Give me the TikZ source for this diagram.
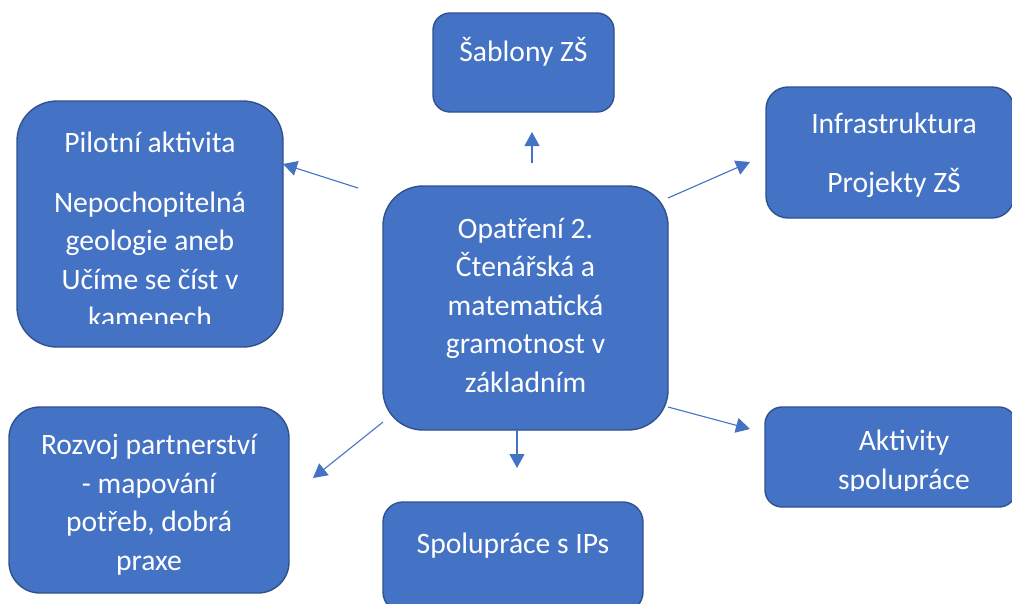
\documentclass[tikz,border=0pt]{standalone}
\usepackage{fontspec}
\setmainfont{Carlito}
\usetikzlibrary{arrows.meta}
\definecolor{boxfill}{HTML}{4472C4}
\definecolor{boxline}{HTML}{2F528F}
\definecolor{arrowcol}{HTML}{4472C4}
\begin{document}
\begin{tikzpicture}[x=1pt,y=-1pt,
  boxst/.style={draw=boxline, fill=boxfill, line width=1.4pt, inner sep=0pt, rounded corners=#1},
  txt/.style={text=white, align=center, anchor=base, inner sep=0pt,
    font=\fontsize{29.6}{38.5}\selectfont},
  conn/.style={draw=arrowcol, line width=1.1pt, -{Triangle[length=14pt,width=15pt]}}]
\useasboundingbox (0,0) rectangle (1012,603);
\clip (0,0) rectangle (1012,603);
% boxes
\node[boxst=40pt, minimum width=266pt, minimum height=246pt] (pil) at (150,224) {};
\node[boxst=40pt, minimum width=285pt, minimum height=244pt] (mid) at (525.5,308) {};
\node[boxst=17pt, minimum width=181pt, minimum height=99pt] (sab) at (523.5,62.5) {};
\node[boxst=22pt, minimum width=248pt, minimum height=131pt] (inf) at (890,152.5) {};
\node[boxst=17pt, minimum width=251pt, minimum height=100pt] (akt) at (890.5,457) {};
\node[boxst=20pt, minimum width=260pt, minimum height=110pt] (spo) at (513,557) {};
\node[boxst=31pt, minimum width=280pt, minimum height=186pt] (roz) at (149,500) {};
% texts (anchor base = baseline of the last line)
\node[txt] (mid-t) at (525.5,392) {Opatření 2.\\Čtenářská a\\matematická\\gramotnost v\\základním};
\node[txt] (sab-t) at (523.5,61) {Šablony ZŠ};
\node[txt] (inf-t1) at (894,133) {Infrastruktura};
\node[txt] (inf-t2) at (894,192) {Projekty ZŠ};
\node[txt] (spo-t) at (513,553) {Spolupráce s IPs};
\node[txt] (roz-t) at (149,570) {Rozvoj partnerství\\- mapování\\potřeb, dobrá\\praxe};
\node[txt] (pil-t1) at (150,152) {Pilotní aktivita};
\begin{scope}
  \clip (17,100) rectangle (283,323);
  \node[txt] (pil-t2) at (150,327.5) {Nepochopitelná\\geologie aneb\\Učíme se číst v\\kamenech};
\end{scope}
\begin{scope}
  \clip (765,400) rectangle (1012,490);
  \node[txt] (akt-t) at (904,489) {Aktivity\\spolupráce};
\end{scope}
% connector end points
\coordinate (c-pil-s) at (358,188);
\coordinate (c-pil-e) at (283,164);
\coordinate (c-sab-s) at (532,163);
\coordinate (c-sab-e) at (532,132);
\coordinate (c-inf-s) at (668,198);
\coordinate (c-inf-e) at (750,162);
\coordinate (c-akt-s) at (668,407);
\coordinate (c-akt-e) at (750,429);
\coordinate (c-roz-s) at (383,422);
\coordinate (c-roz-e) at (313,478);
\coordinate (c-spo-s) at (517,430);
\coordinate (c-spo-e) at (517,468);
\draw[conn] (c-pil-s) -- (c-pil-e);
\draw[conn] (c-sab-s) -- (c-sab-e);
\draw[conn] (c-inf-s) -- (c-inf-e);
\draw[conn] (c-akt-s) -- (c-akt-e);
\draw[conn] (c-roz-s) -- (c-roz-e);
\draw[conn] (c-spo-s) -- (c-spo-e);
\end{tikzpicture}
\end{document}
